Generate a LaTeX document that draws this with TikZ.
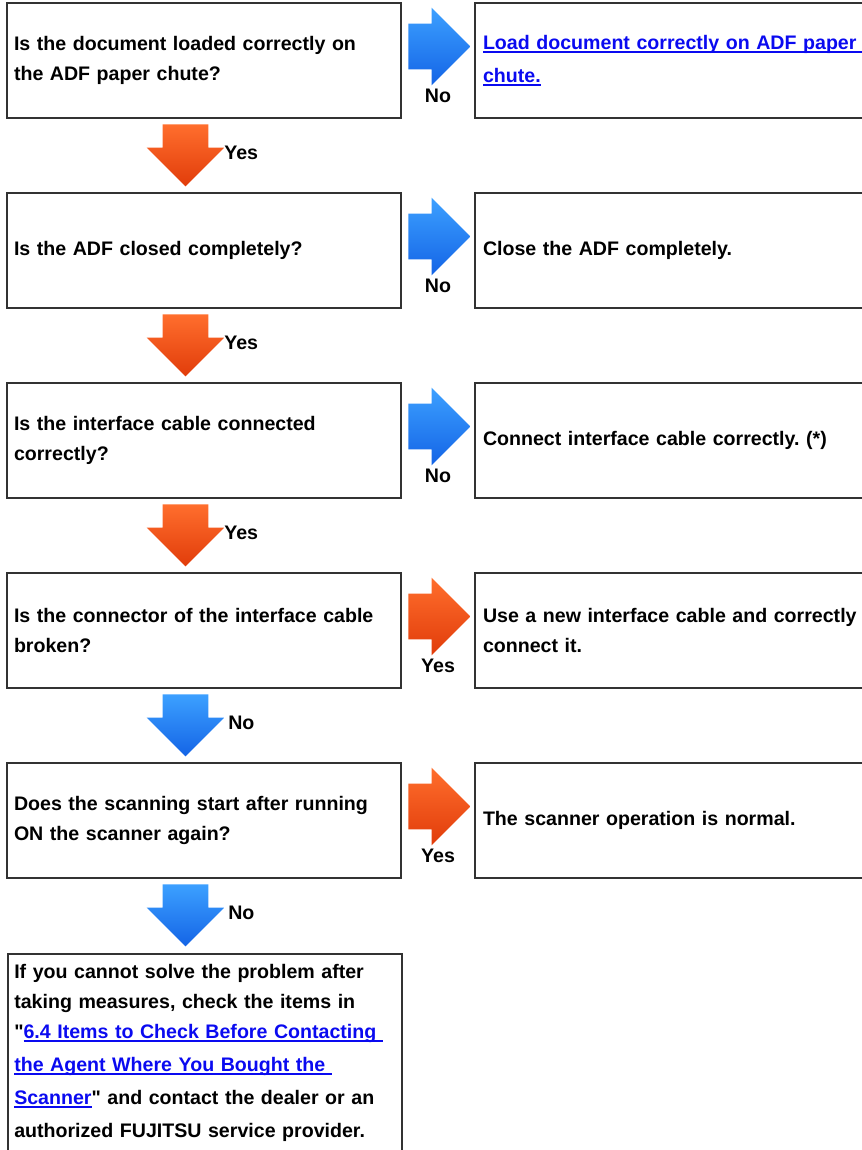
\documentclass[tikz,border=0pt]{standalone}
\usepackage{fontspec}
\setmainfont{Liberation Sans}
\usetikzlibrary{shapes.arrows,positioning}
\definecolor{boxgray}{RGB}{50,50,50}
\definecolor{linkblue}{RGB}{10,10,240}
\definecolor{bluetop}{RGB}{60,160,255}
\definecolor{bluebottom}{RGB}{20,100,230}
\definecolor{orangetop}{RGB}{255,110,45}
\definecolor{orangebottom}{RGB}{225,60,10}

% underlined link text
\newcommand{\linkline}[1]{\leavevmode\setbox0=\hbox{#1}\rlap{\rule[-2.6pt]{\wd0}{1.1pt}}\box0}

\begin{document}
\frenchspacing
\begin{tikzpicture}[
    x=0.75pt, y=-0.75pt,
    qbox/.style={rectangle, draw=boxgray, line width=1.3pt, minimum width=295.5pt, minimum height=86.25pt, text width=285pt, inner xsep=5.25pt, align=left, font=\fontsize{14.7}{22.5}\selectfont\bfseries},
    abox/.style={qbox, text width=283.5pt, inner xsep=6pt},
    blockarrow/.style={single arrow, single arrow head extend=12pt, minimum height=46.5pt, minimum width=57.75pt, inner xsep=0pt, inner ysep=16.9pt},
    bluearrow/.style={blockarrow, top color=bluetop, bottom color=bluebottom},
    orangearrow/.style={blockarrow, top color=orangetop, bottom color=orangebottom},
    lbl/.style={inner sep=0pt, font=\fontsize{14.7}{18}\selectfont\bfseries}
]
\useasboundingbox (0,0) rectangle (862,1150);

% Questions
\node[qbox] (q1) at (204, 60.5) {Is the document loaded correctly on\\the ADF paper chute?};
\node[qbox] (q2) at (204, 250.5) {Is the ADF closed completely?};
\node[qbox] (q3) at (204, 440.5) {Is the interface cable connected\\correctly?};
\node[qbox] (q4) at (204, 630.5) {Is the connector of the interface cable\\broken?};
\node[qbox] (q5) at (204, 820.5) {Does the scanning start after running\\ON the scanner again?};
\node[qbox, anchor=north west, minimum height=160pt] (q6) at (7, 953) {};
\node[lbl, text width=285pt, align=left, font=\fontsize{14.7}{22.5}\selectfont\bfseries, anchor=north west] (q6text) at (14, 964) {If you cannot solve the problem after\\
taking measures, check the items in\\
\textquotedbl{\color{linkblue}\linkline{6.4 Items to Check Before Contacting\ }}\\[2.25pt]
{\color{linkblue}\linkline{the Agent Where You Bought the\ }}\\[2.25pt]
{\color{linkblue}\linkline{Scanner}}\textquotedbl{} and contact the dealer or an\\[2.25pt]
authorized FUJITSU service provider.};

% Actions
\node[abox] (a1) at (672, 60.5) {{\color{linkblue}\linkline{Load document correctly on ADF paper\ }}\\[2.25pt]{\color{linkblue}\linkline{chute.}}};
\node[abox] (a2) at (672, 250.5) {Close the ADF completely.};
\node[abox] (a3) at (672, 440.5) {Connect interface cable correctly. (*)};
\node[abox] (a4) at (672, 630.5) {Use a new interface cable and correctly\\connect it.};
\node[abox] (a5) at (672, 820.5) {The scanner operation is normal.};

% Side arrows
\node[bluearrow] (r1) at (428, 46.5) {};
\node[bluearrow] (r2) at (428, 236.5) {};
\node[bluearrow] (r3) at (428, 426.5) {};
\node[orangearrow] (r4) at (428, 616.5) {};
\node[orangearrow] (r5) at (428, 806.5) {};

% Down arrows
\node[orangearrow, rotate=-90] (d1) at (185.5, 144) {};
\node[orangearrow, rotate=-90] (d2) at (185.5, 334) {};
\node[orangearrow, rotate=-90] (d3) at (185.5, 524) {};
\node[bluearrow, rotate=-90] (d4) at (185.5, 714) {};
\node[bluearrow, rotate=-90] (d5) at (185.5, 904) {};

% Labels
\node[lbl] (lr1) at (438, 96) {No};
\node[lbl] (lr2) at (438, 286) {No};
\node[lbl] (lr3) at (438, 476) {No};
\node[lbl] (lr4) at (438, 666) {Yes};
\node[lbl] (lr5) at (438, 856) {Yes};
\node[lbl, anchor=west] (ld1) at (224, 153) {Yes};
\node[lbl, anchor=west] (ld2) at (224, 343) {Yes};
\node[lbl, anchor=west] (ld3) at (224, 533) {Yes};
\node[lbl, anchor=west] (ld4) at (228, 723) {No};
\node[lbl, anchor=west] (ld5) at (228, 913) {No};

\end{tikzpicture}
\end{document}
